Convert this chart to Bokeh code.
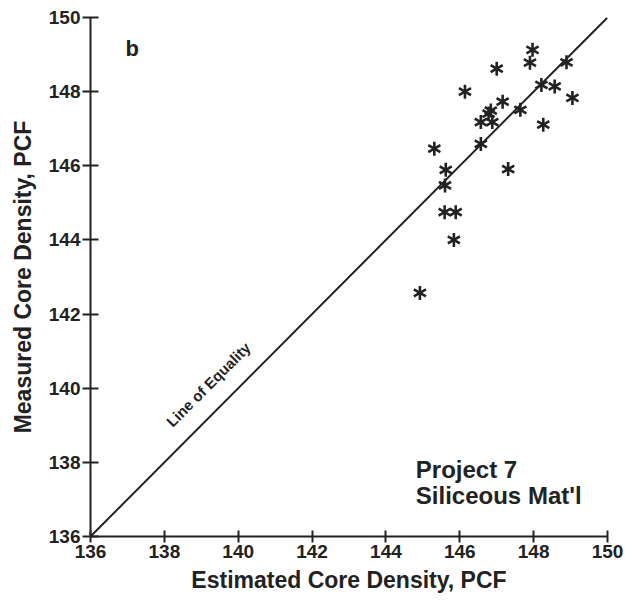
from bokeh.plotting import figure
from bokeh.models import Range1d, FixedTicker
from bokeh.core.properties import value
from bokeh.embed import file_html
from bokeh.resources import INLINE
import math

# ---- data ----
tick_values = [136, 138, 140, 142, 144, 146, 148, 150]
equality_x = [136, 150]
equality_y = [136, 150]
estimated = [147.97, 147.90, 148.89, 147.00, 146.14, 148.21, 148.57, 149.05,
             147.16, 147.64, 148.26, 146.84, 146.78, 146.57, 146.88, 146.57,
             145.31, 147.31, 145.62, 145.60, 145.59, 145.89, 145.84, 144.92]
measured = [149.13, 148.78, 148.79, 148.62, 148.00, 148.18, 148.14, 147.83,
            147.73, 147.51, 147.11, 147.49, 147.41, 147.18, 147.18, 146.59,
            146.46, 145.91, 145.89, 145.47, 144.75, 144.75, 144.00, 142.57]
x_title = "Estimated Core Density, PCF"
y_title = "Measured Core Density, PCF"
panel_letter = "b"
note_lines = ["Project 7", "Siliceous Mat'l"]
equality_label = "Line of Equality"

FONT = "Liberation Sans"

p = figure(frame_width=517, frame_height=519,
           min_border_left=90, min_border_right=20,
           min_border_top=17, min_border_bottom=56,
           x_range=Range1d(136, 150), y_range=Range1d(136, 150),
           output_backend="svg", toolbar_location=None,
           background_fill_color="white", border_fill_color="white")
p.outline_line_color = None
p.grid.visible = False

for ax in (p.xaxis[0], p.yaxis[0]):
    ax.ticker = FixedTicker(ticks=tick_values)
    ax.axis_line_width = 2
    ax.axis_line_color = "#222222"
    ax.major_tick_line_width = 2
    ax.major_tick_line_color = "#222222"
    ax.minor_tick_line_color = None
    ax.major_label_text_font = FONT
    ax.major_label_text_font_style = "bold"
    ax.major_label_text_font_size = "19px"
    ax.major_label_text_color = "#222222"
    ax.axis_label_text_font = FONT
    ax.axis_label_text_font_style = "bold"
    ax.axis_label_text_font_size = "23px"
    ax.axis_label_text_color = "#222222"

p.xaxis.major_tick_in = 6
p.xaxis.major_tick_out = 6
p.yaxis.major_tick_in = 8
p.yaxis.major_tick_out = 8
p.xaxis.major_label_standoff = 2
p.yaxis.major_label_standoff = 2
p.xaxis.axis_label = x_title
p.yaxis.axis_label = y_title
p.xaxis.axis_label_standoff = 6
p.yaxis.axis_label_standoff = 10

# line of equality
p.line(equality_x, equality_y, line_color="#222222", line_width=2)

# six-armed asterisks
for ang in (math.pi / 2, math.pi / 6, 5 * math.pi / 6):
    p.scatter(estimated, measured, marker="dash", size=14, angle=ang,
              line_color="#222222", line_width=2.6)

# texts
p.text(x=[136.95], y=[149.17], text=[panel_letter], text_font=value(FONT),
       text_font_style="bold", text_font_size="22px", text_color="#222222",
       text_baseline="middle", text_align="left")
p.text(x=[144.81, 144.81], y=[137.81, 137.11], text=note_lines,
       text_font=value(FONT), text_font_style="bold", text_font_size="24px",
       text_color="#222222", text_baseline="middle", text_align="left")
p.text(x=[139.19], y=[140.10], text=[equality_label], angle=math.pi / 4,
       text_font=value(FONT), text_font_style="bold", text_font_size="15px",
       text_color="#222222", text_baseline="middle", text_align="center")

open("out.html", "w").write(file_html(p, INLINE))
